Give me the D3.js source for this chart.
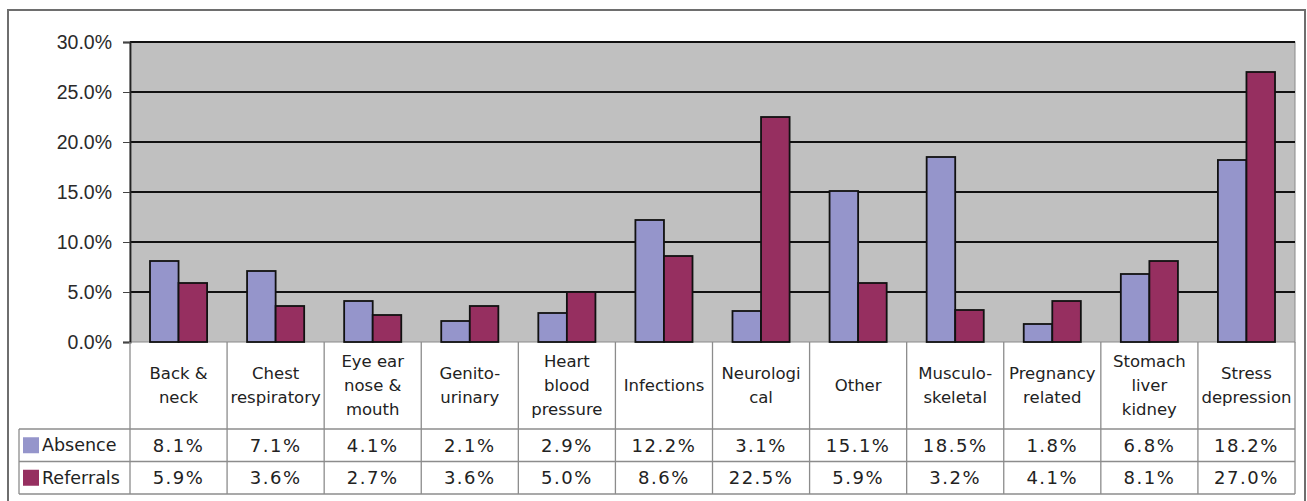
<!DOCTYPE html>
<html>
<head>
<meta charset="utf-8">
<script src="https://cdn.jsdelivr.net/npm/d3@7"></script>
<style>
  body { margin: 0; background: #fff; }
  svg { display: block; font-family: "DejaVu Sans", Verdana, sans-serif; }
</style>
</head>
<body>
<svg width="1307" height="501"></svg>
<script>
let categories = [
  ["Back &", "neck"],
  ["Chest", "respiratory"],
  ["Eye ear", "nose &", "mouth"],
  ["Genito-", "urinary"],
  ["Heart", "blood", "pressure"],
  ["Infections"],
  ["Neurologi", "cal"],
  ["Other"],
  ["Musculo-", "skeletal"],
  ["Pregnancy", "related"],
  ["Stomach", "liver", "kidney"],
  ["Stress", "depression"]
];
let seriesNames = ["Absence", "Referrals"];
let absence   = [8.1, 7.1, 4.1, 2.1, 2.9, 12.2, 3.1, 15.1, 18.5, 1.8, 6.8, 18.2];
let referrals = [5.9, 3.6, 2.7, 3.6, 5.0, 8.6, 22.5, 5.9, 3.2, 4.1, 8.1, 27.0];
let yTicks = [0, 5, 10, 15, 20, 25, 30];

let svg = d3.select("svg"),
    plot = {left: 130, right: 1295, top: 42, bottom: 342},
    table = {left: 19, catBottom: 429, rowH: 32.5};

let color = d3.scaleOrdinal(seriesNames, ["#9595cb", "#962f60"]);
let values = {Absence: absence, Referrals: referrals};

let x = d3.scaleBand()
    .domain(d3.range(categories.length))
    .range([plot.left, plot.right]);

let xs = d3.scaleBand()
    .domain(seriesNames)
    .range([0, x.bandwidth()])
    .paddingOuter(0.7);

let y = d3.scaleLinear().domain([0, 30]).range([plot.bottom, plot.top]);

// outer chart frame
svg.append("rect")
    .attr("x", 8).attr("y", 10)
    .attr("width", 1297).attr("height", 500)
    .attr("fill", "none")
    .attr("stroke", "#6e6e6e")
    .attr("stroke-width", 2);

// plot background
svg.append("rect")
    .attr("x", plot.left).attr("y", plot.top)
    .attr("width", plot.right - plot.left)
    .attr("height", plot.bottom - plot.top)
    .attr("fill", "#c0c0c0")
    .attr("stroke", "#8a8a8a");

// gridlines
svg.append("g")
  .selectAll("line")
  .data(yTicks.slice(1))
  .enter().append("line")
    .attr("x1", plot.left).attr("x2", plot.right)
    .attr("y1", d => y(d)).attr("y2", d => y(d))
    .attr("stroke", "#111")
    .attr("stroke-width", 1.8);

// bars
let groups = svg.append("g")
  .selectAll("g")
  .data(categories)
  .enter().append("g")
    .attr("transform", (d, i) => "translate(" + x(i) + ",0)");

groups.selectAll("rect")
  .data((d, i) => seriesNames.map(s => ({key: s, value: values[s][i]})))
  .enter().append("rect")
    .attr("x", d => xs(d.key))
    .attr("y", d => y(d.value))
    .attr("width", xs.bandwidth())
    .attr("height", d => y(0) - y(d.value))
    .attr("fill", d => color(d.key))
    .attr("stroke", "#111")
    .attr("stroke-width", 1.8);

// y axis
let yAxis = svg.append("g")
    .attr("transform", "translate(" + plot.left + ",0)")
    .call(d3.axisLeft(y).tickValues(yTicks).tickSize(7).tickPadding(11)
      .tickFormat(d => d.toFixed(1) + "%"));
yAxis.select(".domain").attr("stroke", "#222").attr("stroke-width", 1.8);
yAxis.selectAll(".tick line").attr("stroke", "#444");
yAxis.selectAll("text")
    .attr("fill", "#2a2a2a")
    .style("font-size", "19.5px");

// data table
let grid = svg.append("g").attr("stroke", "#8c8c8c").attr("stroke-width", 1.3);
let tableBottom = table.catBottom + 2 * table.rowH;

x.domain().forEach(i => {
  grid.append("line")
      .attr("x1", x(i)).attr("x2", x(i))
      .attr("y1", plot.bottom).attr("y2", tableBottom);
});
grid.append("line")
    .attr("x1", plot.right).attr("x2", plot.right)
    .attr("y1", plot.bottom).attr("y2", tableBottom);
grid.append("line")
    .attr("x1", table.left).attr("x2", table.left)
    .attr("y1", table.catBottom).attr("y2", tableBottom);
[0, 1, 2].forEach(r => {
  grid.append("line")
      .attr("x1", table.left).attr("x2", plot.right)
      .attr("y1", table.catBottom + r * table.rowH)
      .attr("y2", table.catBottom + r * table.rowH);
});

// category labels
let lineH = 24,
    catMid = (plot.bottom + table.catBottom) / 2;
groups.append("text")
    .attr("text-anchor", "middle")
    .attr("fill", "#222")
    .style("font-size", "16.5px")
  .selectAll("tspan")
  .data(d => d.map((t, k) => ({t: t, k: k, n: d.length})))
  .enter().append("tspan")
    .attr("x", x.bandwidth() / 2)
    .attr("y", d => catMid + (d.k - (d.n - 1) / 2) * lineH)
    .attr("dy", "0.35em")
    .text(d => d.t);

// value rows
seriesNames.forEach((s, r) => {
  let cy = table.catBottom + (r + 0.5) * table.rowH;
  svg.append("rect")
      .attr("x", 23).attr("y", cy - 8)
      .attr("width", 16).attr("height", 16)
      .attr("fill", color(s));
  svg.append("text")
      .attr("x", 42).attr("y", cy)
      .attr("dy", "0.35em")
      .attr("fill", "#222")
      .style("font-size", "17.5px")
      .text(s);
  svg.append("g")
    .selectAll("text")
    .data(values[s])
    .enter().append("text")
      .attr("x", (d, i) => x(i) + x.bandwidth() / 2)
      .attr("y", cy)
      .attr("dy", "0.35em")
      .attr("text-anchor", "middle")
      .attr("fill", "#222")
      .style("font-size", "18px")
      .style("letter-spacing", "1.5px")
      .text(d => d.toFixed(1) + "%");
});
</script>
</body>
</html>
